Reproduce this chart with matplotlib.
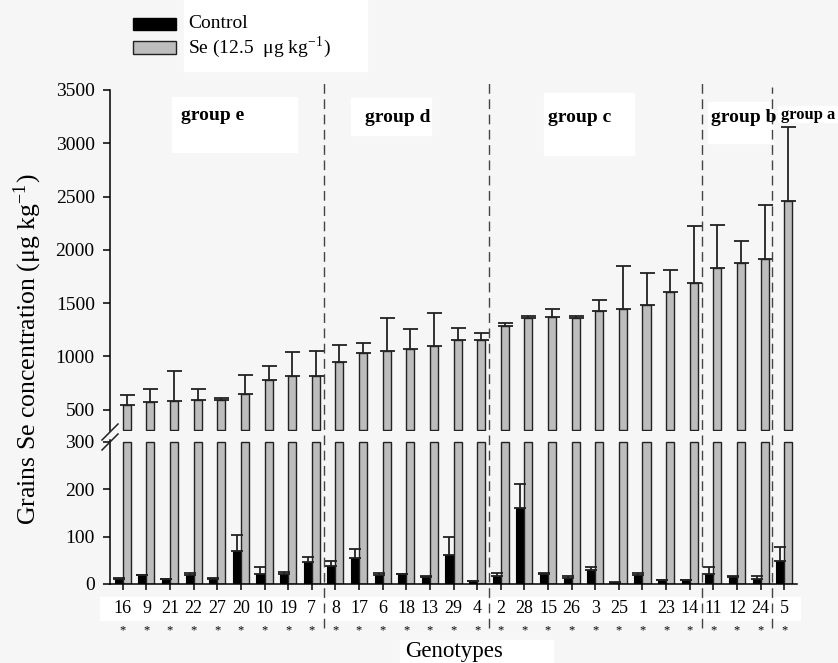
import numpy as np
import matplotlib.pyplot as plt
import matplotlib.transforms as mtransforms
from matplotlib.patches import Rectangle
from matplotlib.lines import Line2D

plt.rcParams['font.family'] = ['Liberation Serif', 'DejaVu Serif']
plt.rcParams['mathtext.fontset'] = 'stix'

# 数据：基因型顺序（按 Se 处理均值排序）
genotypes = ['16', '9', '21', '22', '27', '20', '10', '19', '7',
             '8', '17', '6', '18', '13', '29', '4',
             '2', '28', '15', '26', '3', '25', '1', '23', '14',
             '11', '12', '24', '5']
se_mean = [547, 569, 578, 594, 594, 647, 778, 812, 819,
           944, 1031, 1053, 1069, 1094, 1150, 1150,
           1288, 1362, 1366, 1362, 1425, 1444, 1484, 1603, 1691,
           1834, 1875, 1916, 2456]
se_err = [87, 128, 288, 96, 16, 178, 128, 229, 234,
          163, 91, 303, 190, 318, 112, 69,
          21, 13, 78, 19, 106, 403, 300, 209, 537,
          400, 212, 509, 694]
ctrl_mean = [10, 19, 10, 19, 10, 69, 22, 22, 47,
             38, 55, 20, 21, 15, 62, 6,
             17, 159, 22, 13, 29, 3, 20, 8, 8,
             22, 15, 11, 48]
ctrl_err = [2, 1, 1, 4, 3, 35, 14, 3, 9,
            10, 18, 4, 1, 1, 37, 1,
            6, 51, 1, 4, 7, 1, 3, 1, 1,
            13, 1, 6, 30]
groups = ['group e', 'group d', 'group c', 'group b', 'group a']
group_sizes = [9, 7, 9, 3, 1]

W, H = 838, 663
def fx(x): return x / W
def fy(y): return 1 - y / H

fig = plt.figure(figsize=(8.38, 6.63), dpi=100, facecolor='#f6f6f6')

# 白色背景块（原图扫描痕迹），放在坐标轴下面
for (x0, y0, x1, y1) in [(172, 97, 297, 152), (351, 98, 431, 135), (544, 93, 634, 155),
                         (708, 102, 773, 143), (778, 106, 838, 122), (184, 0, 367, 71),
                         (100, 597, 800, 620), (400, 640, 553, 663)]:
    fig.patches.append(Rectangle((fx(x0), fy(y1)), fx(x1) - fx(x0), fy(y0) - fy(y1),
                                 transform=fig.transFigure, color='white', zorder=-1))

left, right = fx(110), fx(797)
ax_up = fig.add_axes([left, fy(431), right - left, fy(90) - fy(431)])
ax_lo = fig.add_axes([left, fy(584), right - left, fy(439.6) - fy(584)])

x = np.arange(len(genotypes))
bw = 0.34
ekw = dict(ecolor='#222222', elinewidth=1.3, capthick=1.3)

# 上半部分：Se 处理
ax_up.bar(x + bw / 2, np.array(se_mean) - 310, bottom=310, width=bw, color='#bdbdbd',
          edgecolor='#222222', linewidth=1.0)
ax_up.errorbar(x + bw / 2, se_mean, yerr=[np.zeros(len(x)), se_err], fmt='none',
               capsize=5.4, **ekw)
ax_up.set_ylim(300, 3500)
ax_up.set_yticks([500, 1000, 1500, 2000, 2500, 3000, 3500])

# 下半部分：对照 + Se 截断
ax_lo.bar(x - bw / 2, ctrl_mean, width=bw, color='black', edgecolor='black', linewidth=0.8)
ax_lo.errorbar(x - bw / 2, ctrl_mean, yerr=[np.zeros(len(x)), ctrl_err], fmt='none',
               capsize=4, **ekw)
ax_lo.bar(x + bw / 2, [300] * len(x), width=bw, color='#bdbdbd',
          edgecolor='#222222', linewidth=1.0)
ax_lo.set_ylim(0, 304)
ax_lo.set_yticks([0, 100, 200, 300])

for ax in (ax_up, ax_lo):
    ax.set_facecolor('none')
    ax.set_xlim(-0.54, len(x) - 1 + 0.54)
    ax.spines['top'].set_visible(False)
    ax.spines['right'].set_visible(False)
    ax.spines['left'].set_linewidth(1.1)
    ax.tick_params(axis='y', direction='out', length=5, width=1.1, pad=6, labelsize=14)
ax_up.spines['bottom'].set_visible(False)
ax_up.set_xticks([])
ax_lo.spines['bottom'].set_linewidth(1.1)
ax_lo.set_xticks(x)
ax_lo.set_xticklabels(genotypes)
ax_lo.tick_params(axis='x', direction='out', length=4.3, width=1.1, pad=7, labelsize=13)

# 星号
tr = mtransforms.blended_transform_factory(ax_lo.transData, fig.transFigure)
for i in x:
    ax_lo.text(i, fy(630), '*', transform=tr, ha='center', va='center', fontsize=9)

# 分组虚线
bounds = np.cumsum(group_sizes)[:-1] - 0.5
tops = [83, 83, 83, 87]
for b, t in zip(bounds, tops):
    fig.add_artist(Line2D([b, b], [fy(628), fy(t)], transform=tr, color='#444444',
                          linewidth=1.0, linestyle=(0, (7, 4))))

# 分组标签（group a 在原图中贴着右边缘）
for name, xl, yl, fs in zip(groups, [181, 365, 548, 711, 781], [115, 117, 117, 118, 115],
                            [14, 14, 14, 14, 12]):
    fig.text(fx(xl), fy(yl), name, fontsize=fs, fontweight='bold', ha='left', va='center')

# 断轴标记
for y0 in (440, 450):
    fig.add_artist(Line2D([fx(102), fx(118)], [fy(y0), fy(y0 - 16)],
                          transform=fig.transFigure, color='#222222', linewidth=1.1))

# 图例
fig.patches.append(Rectangle((fx(133), fy(30)), fx(176) - fx(133), fy(17.7) - fy(30),
                             transform=fig.transFigure, facecolor='black', edgecolor='black'))
fig.patches.append(Rectangle((fx(133), fy(54)), fx(176) - fx(133), fy(41) - fy(54),
                             transform=fig.transFigure, facecolor='#bdbdbd', edgecolor='#222222',
                             linewidth=1.0))
fig.text(fx(188), fy(23), 'Control', fontsize=14, va='center')
fig.text(fx(188), fy(47), 'Se (12.5  μg kg$^{\\mathregular{-1}}$)', fontsize=14, va='center')

fig.text(fx(28), fy(349), 'Grains Se concentration (μg kg$^{\\mathregular{-1}}$)',
         rotation=90, ha='center', va='center', fontsize=18.5)
fig.text(fx(454), fy(652), 'Genotypes', ha='center', va='center', fontsize=16.5)

fig.savefig('out.png', dpi=100, facecolor=fig.get_facecolor())
